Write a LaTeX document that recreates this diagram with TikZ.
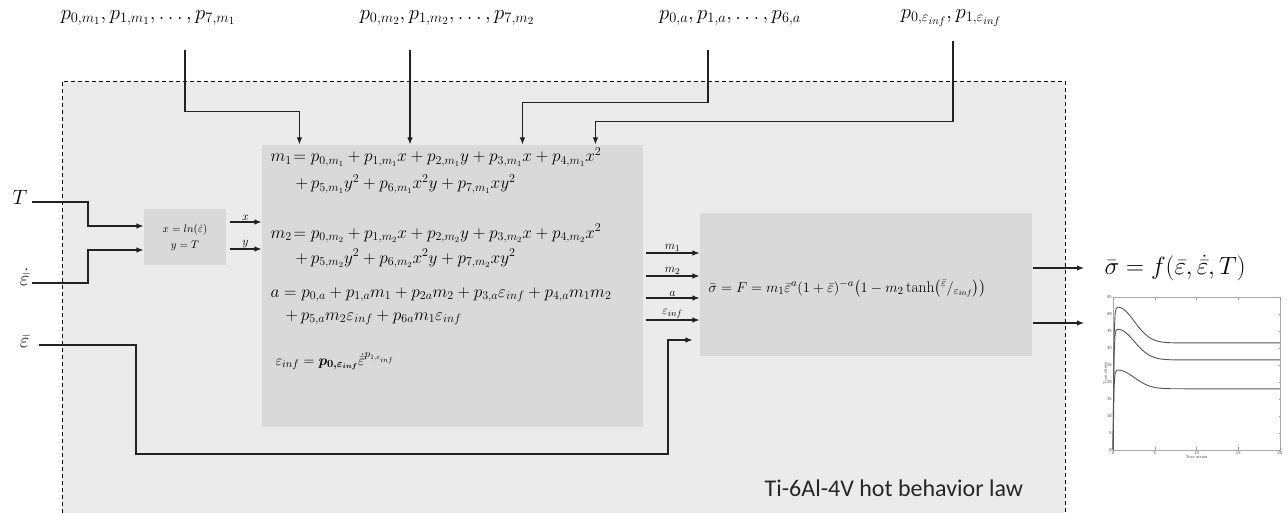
\documentclass[tikz,border=0pt]{standalone}
\usepackage{amsmath}
\usepackage{fontspec}
\newfontfamily\lawfont{Carlito}
\usetikzlibrary{arrows.meta, calc}
\definecolor{cpanel}{HTML}{EBEBEB}
\definecolor{cbox}{HTML}{D9D9D9}
\definecolor{cline}{HTML}{222222}
\definecolor{cplot}{HTML}{555555}
\tikzset{
  every picture/.style={line width=1.1pt},
  blk/.style={fill=cbox, draw=none, inner sep=0pt},
  arrow/.style={-{Latex[length=7pt,width=5.5pt]}, draw=cline},
  param/.style={font=\fontsize{22}{26}\selectfont, inner sep=0pt},
  invar/.style={font=\fontsize{22}{26}\selectfont, inner sep=0pt, anchor=mid east},
  eqn/.style={anchor=base west, inner sep=0pt, font=\fontsize{16.5}{19}\selectfont},
  wlabel/.style={font=\fontsize{13}{15}\selectfont, inner sep=1pt, above},
  tick/.style={font=\sffamily\fontsize{4.5}{5}\selectfont, text=cplot, inner sep=1pt},
}

\begin{document}
\begin{tikzpicture}[x=1pt, y=-1pt]
  \useasboundingbox (0,0) rectangle (1287,513);
  % hot behavior law panel
  \fill[cpanel] (62,81) rectangle (1065,513);
  \draw[dash pattern=on 4pt off 3pt, line width=0.8pt] (62,513) -- (62,81) -- (1065,81) -- (1065,513);
  \node[anchor=base east, font=\lawfont\fontsize{24}{28}\selectfont, text=black!85] (law) at (1027,496) {Ti-6Al-4V hot behavior law};
  % blocks
  \node[blk, minimum width=82, minimum height=56, align=center, font=\fontsize{10.5}{16}\selectfont] (chg) at (185,237) {$x = ln(\dot{\varepsilon})$\\$y = T$};
  \node[blk, minimum width=381, minimum height=282] (eqs) at (452.5,286) {};
  \node[blk, minimum width=332, minimum height=143] (fbox) at (866,284.5) {};
  % equations
  \node[eqn] (m1a) at (270,162) {$m_1\!= p_{0,m_1} + p_{1,m_1}x + p_{2,m_1}y + p_{3,m_1}x + p_{4,m_1}x^2$};
  \node[eqn] (m1b) at (295,189) {$+\, p_{5,m_1}y^2 + p_{6,m_1}x^2y + p_{7,m_1}xy^2$};
  \node[eqn] (m2a) at (270,238) {$m_2\!= p_{0,m_2} + p_{1,m_2}x + p_{2,m_2}y + p_{3,m_2}x + p_{4,m_2}x^2$};
  \node[eqn] (m2b) at (295,263) {$+\, p_{5,m_2}y^2 + p_{6,m_2}x^2y + p_{7,m_2}xy^2$};
  \node[eqn] (aa) at (270,297) {$a = p_{0,a} + p_{1,a}m_1 + p_{2a}m_2 + p_{3,a}\varepsilon_{inf} + p_{4,a}m_1m_2$};
  \node[eqn] (ab) at (285,320) {$+\, p_{5,a}m_2\varepsilon_{inf} + p_{6a}m_1\varepsilon_{inf}$};
  \node[eqn, font=\fontsize{15}{17}\selectfont] (einf) at (275,365) {$\varepsilon_{inf} = \boldsymbol{p_{0,\varepsilon_{inf}}}\dot{\bar{\varepsilon}}^{p_{1,\varepsilon_{inf}}}$};
  \node[eqn, font=\fontsize{15.5}{18}\selectfont] (feq) at (708,292) {$\bar{\sigma} = F = m_1\bar{\varepsilon}^{a}(1+\bar{\varepsilon})^{-a}\bigl(1 - m_2\tanh\bigl({}^{\bar{\varepsilon}}/{}_{\varepsilon_{inf}}\bigr)\bigr)$};
  % parameters
  \node[param] (pm1) at (148,18) {$p_{0,m_1}, p_{1,m_1}, \ldots, p_{7,m_1}$};
  \node[param] (pm2) at (447,18) {$p_{0,m_2}, p_{1,m_2}, \ldots, p_{7,m_2}$};
  \node[param] (pa) at (730,18) {$p_{0,a}, p_{1,a}, \ldots, p_{6,a}$};
  \node[param] (pe) at (951,18) {$p_{0,\varepsilon_{inf}}, p_{1,\varepsilon_{inf}}$};
  \coordinate (in1) at (185,50);
  \coordinate (in2) at (410,50);
  \coordinate (in3) at (708,50);
  \coordinate (in4) at (953,41);
  \draw[arrow] (in1) |- ($(eqs.north west)+(38,-33)$) -- ($(eqs.north west)+(38,0)$);
  \draw[arrow] (in2) -- (in2 |- eqs.north);
  \draw[arrow] (in3) |- ($(eqs.north west)+(261,-42)$) -- ($(eqs.north west)+(261,0)$);
  \draw[arrow] (in4) |- ($(eqs.north west)+(334,-23)$) -- ($(eqs.north west)+(334,0)$);
  % inputs
  \node[invar] (T) at (28,202) {$T$};
  \node[invar] (edot) at (30,283) {$\dot{\bar{\varepsilon}}$};
  \node[invar] (ebar) at (30,345) {$\bar{\varepsilon}$};
  \draw[arrow] ($(T.mid east)+(4,0)$) -- ++(56,0) |- ($(chg.west)+(0,-11)$);
  \draw[arrow] ($(edot.mid east)+(2,0)$) -- ++(56,0) |- ($(chg.west)+(0,13)$);
  \coordinate (eturn) at (668,454);
  \draw[arrow, shorten >=7pt] ($(ebar.mid east)+(9,0)$) -- ++(97,0) |- (eturn) |- ($(fbox.west)+(0,55.5)$);
  % x, y
  \draw[arrow] ($(chg.east)+(3,-15)$) -- ($(chg.east -| eqs.west)+(0,-15)$) node[wlabel, midway] (lx) {$x$};
  \draw[arrow] ($(chg.east)+(3,12)$) -- ($(chg.east -| eqs.west)+(0,12)$) node[wlabel, midway] (ly) {$y$};
  % coefficients
  \foreach \lab/\dy [count=\i] in {m_1/-31.5, m_2/-8.5, a/13.5, \varepsilon_{inf}/35.5}
    \draw[arrow] ($(fbox.west -| eqs.east)+(2,\dy)$) -- ($(fbox.west)+(0,\dy)$) node[wlabel, midway] (c\i) {$\lab$};
  % outputs
  \node[font=\fontsize{24}{28}\selectfont, inner sep=0pt, anchor=west] (sig) at (1104,268) {$\bar{\sigma} = f(\bar{\varepsilon}, \dot{\bar{\varepsilon}}, T)$};
  \coordinate (plotin) at (1084,323);
  \draw[arrow] ($(fbox.east)+(0,-16.5)$) -- ($(sig.west)+(-20,0)$);
  \draw[arrow] ($(fbox.east)+(0,38.5)$) -- (plotin);
  % flow curves
  \begin{scope}[shift={(1113,450)}, x=8.35pt, y=3.4pt, line width=0.3pt, draw=cplot]
    \draw[cplot!50, fill=white] (0,0) rectangle (20,45);
    \foreach \t in {0,5,...,20} {
      \draw[cplot!60] (\t,0) -- ++(0,0.8) (\t,45) -- ++(0,-0.8);
      \node[tick, below] (xt\t) at (\t,0) {\t};
    }
    \foreach \s in {0,5,...,45} {
      \draw[cplot!60] (0,\s) -- ++(0.12,0) (20,\s) -- ++(-0.12,0);
      \node[tick, left] (yt\s) at (0,\s) {\s};
    }
    \node[tick, below=4pt] (xl) at (10,0) {True strain};
    \node[tick, rotate=90, above=5pt] (yl) at (0,22.5) {True stress};
    \foreach \pk/\ss in {42/31.5, 35.5/26.5, 23.5/18}
      \draw[cplot, line width=0.9pt] plot[domain=0:20, samples=160]
        (\x, {(\ss + (\pk-\ss)*exp(-min((max(\x-0.6,0))^2/7.5,30)))*(1-exp(-min(\x/0.08,30)))});
  \end{scope}
\end{tikzpicture}
\end{document}
